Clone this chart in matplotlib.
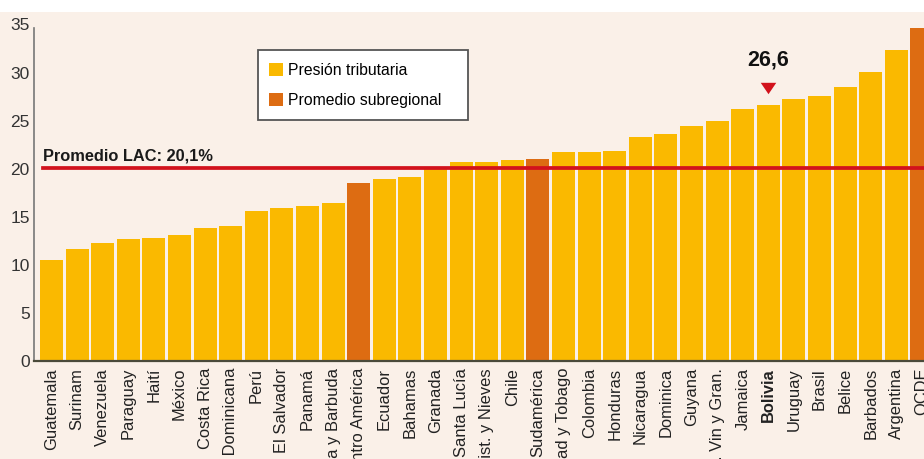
import matplotlib
matplotlib.use("Agg")
import matplotlib.pyplot as plt
from matplotlib.patches import Patch, Rectangle
from matplotlib import font_manager

categories = ["Guatemala", "Surinam", "Venezuela", "Paraguay", "Haití", "México",
              "Costa Rica", "Rep. Dominicana", "Perú", "El Salvador", "Panamá",
              "Antigua y Barbuda", "Centro América", "Ecuador", "Bahamas", "Granada",
              "Santa Lucía", "St. Krist. y Nieves", "Chile", "Sudamérica",
              "Trinidad y Tobago", "Colombia", "Honduras", "Nicaragua", "Dominica",
              "Guyana", "S. Vin y Gran.", "Jamaica", "Bolivia", "Uruguay", "Brasil",
              "Belice", "Barbados", "Argentina", "OCDE"]
values = [10.5, 11.6, 12.3, 12.7, 12.8, 13.1, 13.8, 14.0, 15.6, 15.9, 16.1,
          16.4, 18.5, 18.9, 19.1, 20.0, 20.7, 20.7, 20.9, 21.0,
          21.7, 21.7, 21.8, 23.3, 23.6, 24.4, 25.0, 26.2, 26.6, 27.2, 27.6,
          28.5, 30.1, 32.3, 34.6]
subregional = ["Centro América", "Sudamérica", "OCDE"]
lac_average = 20.1
highlight = "Bolivia"
highlight_label = "26,6"
y_ticks = [0, 5, 10, 15, 20, 25, 30, 35]

names = {f.name for f in font_manager.fontManager.ttflist}
if "Liberation Sans Narrow" in names:
    FAM = ["Liberation Sans Narrow", "DejaVu Sans"]
    narrow = True
else:
    FAM = ["Liberation Sans", "DejaVu Sans"]
    narrow = False
plt.rcParams["font.family"] = FAM

YEL = "#fab900"
ORA = "#dd6c12"
BG = "#faf0e8"
RED = "#d2121c"

fig = plt.figure(figsize=(9.24, 4.59), dpi=100, facecolor=BG)
fig.patches.append(Rectangle((0, 1 - 12 / 459), 1, 12 / 459, transform=fig.transFigure,
                             facecolor="white", edgecolor="none", zorder=0))
ax = fig.add_axes([34 / 924, 98 / 459, 890 / 924, 336.5 / 459])
ax.set_facecolor(BG)

x = list(range(len(categories)))
colors = [ORA if c in subregional else YEL for c in categories]
ax.bar(x, values, width=0.9, color=colors, zorder=2)

ax.set_xlim(-0.684, 34.08)
ax.set_ylim(0, 35)
ax.set_yticks(y_ticks)
ax.set_yticklabels([str(t) for t in y_ticks], fontsize=14 if narrow else 12.5, color="#333333")
ax.set_xticks(x)
ax.set_xticklabels(categories, rotation=90, fontsize=14.5 if narrow else 11.9, color="#222222")
for lbl in ax.get_xticklabels():
    if lbl.get_text() == highlight:
        lbl.set_fontweight("bold")
ax.tick_params(axis="both", length=0)
ax.tick_params(axis="x", pad=5)
ax.tick_params(axis="y", pad=3)

for s in ["top", "right"]:
    ax.spines[s].set_visible(False)
ax.spines["left"].set_color("#777777")
ax.spines["left"].set_linewidth(1.2)
ax.spines["left"].set_bounds(0, 34.6)
ax.spines["bottom"].set_color("#4a4a3a")
ax.spines["bottom"].set_linewidth(1.6)

ax.axhline(lac_average, xmin=0.01, xmax=1, color=RED, linewidth=2.7, zorder=3)
ax.text(-0.33, lac_average + 0.45, "Promedio LAC: 20,1%", fontsize=14 if narrow else 11.8,
        fontweight="bold", color="#1a1a1a", ha="left", va="bottom", zorder=4)

hi = categories.index(highlight)
tri = [(-1, 0.733), (1, 0.733), (0, -0.733)]
ax.scatter([hi], [28.4], marker=tri, s=125, color=RED, zorder=4, linewidths=0)
ax.text(hi, 31.3, highlight_label, fontsize=19 if narrow else 15.5, fontweight="bold",
        color="#111111", ha="center", va="center", zorder=4)

# legend box
ax.add_patch(Rectangle((0.2517, 0.716), 0.4876 - 0.2517, 0.924 - 0.716,
                       transform=ax.transAxes, facecolor="white", edgecolor="#555555",
                       linewidth=1.3, zorder=5))
handles = [Patch(facecolor=YEL, edgecolor="none", label="Presión tributaria"),
           Patch(facecolor=ORA, edgecolor="none", label="Promedio subregional")]
leg = ax.legend(handles=handles, loc="upper left", bbox_to_anchor=(0.2585, 0.900),
                fontsize=13 if narrow else 11.3, frameon=False,
                handlelength=0.9, handleheight=0.9, handletextpad=0.35,
                labelspacing=0.95, borderpad=0.3, borderaxespad=0)
leg.set_zorder(6)

fig.savefig("out.png", dpi=100, facecolor=BG)
